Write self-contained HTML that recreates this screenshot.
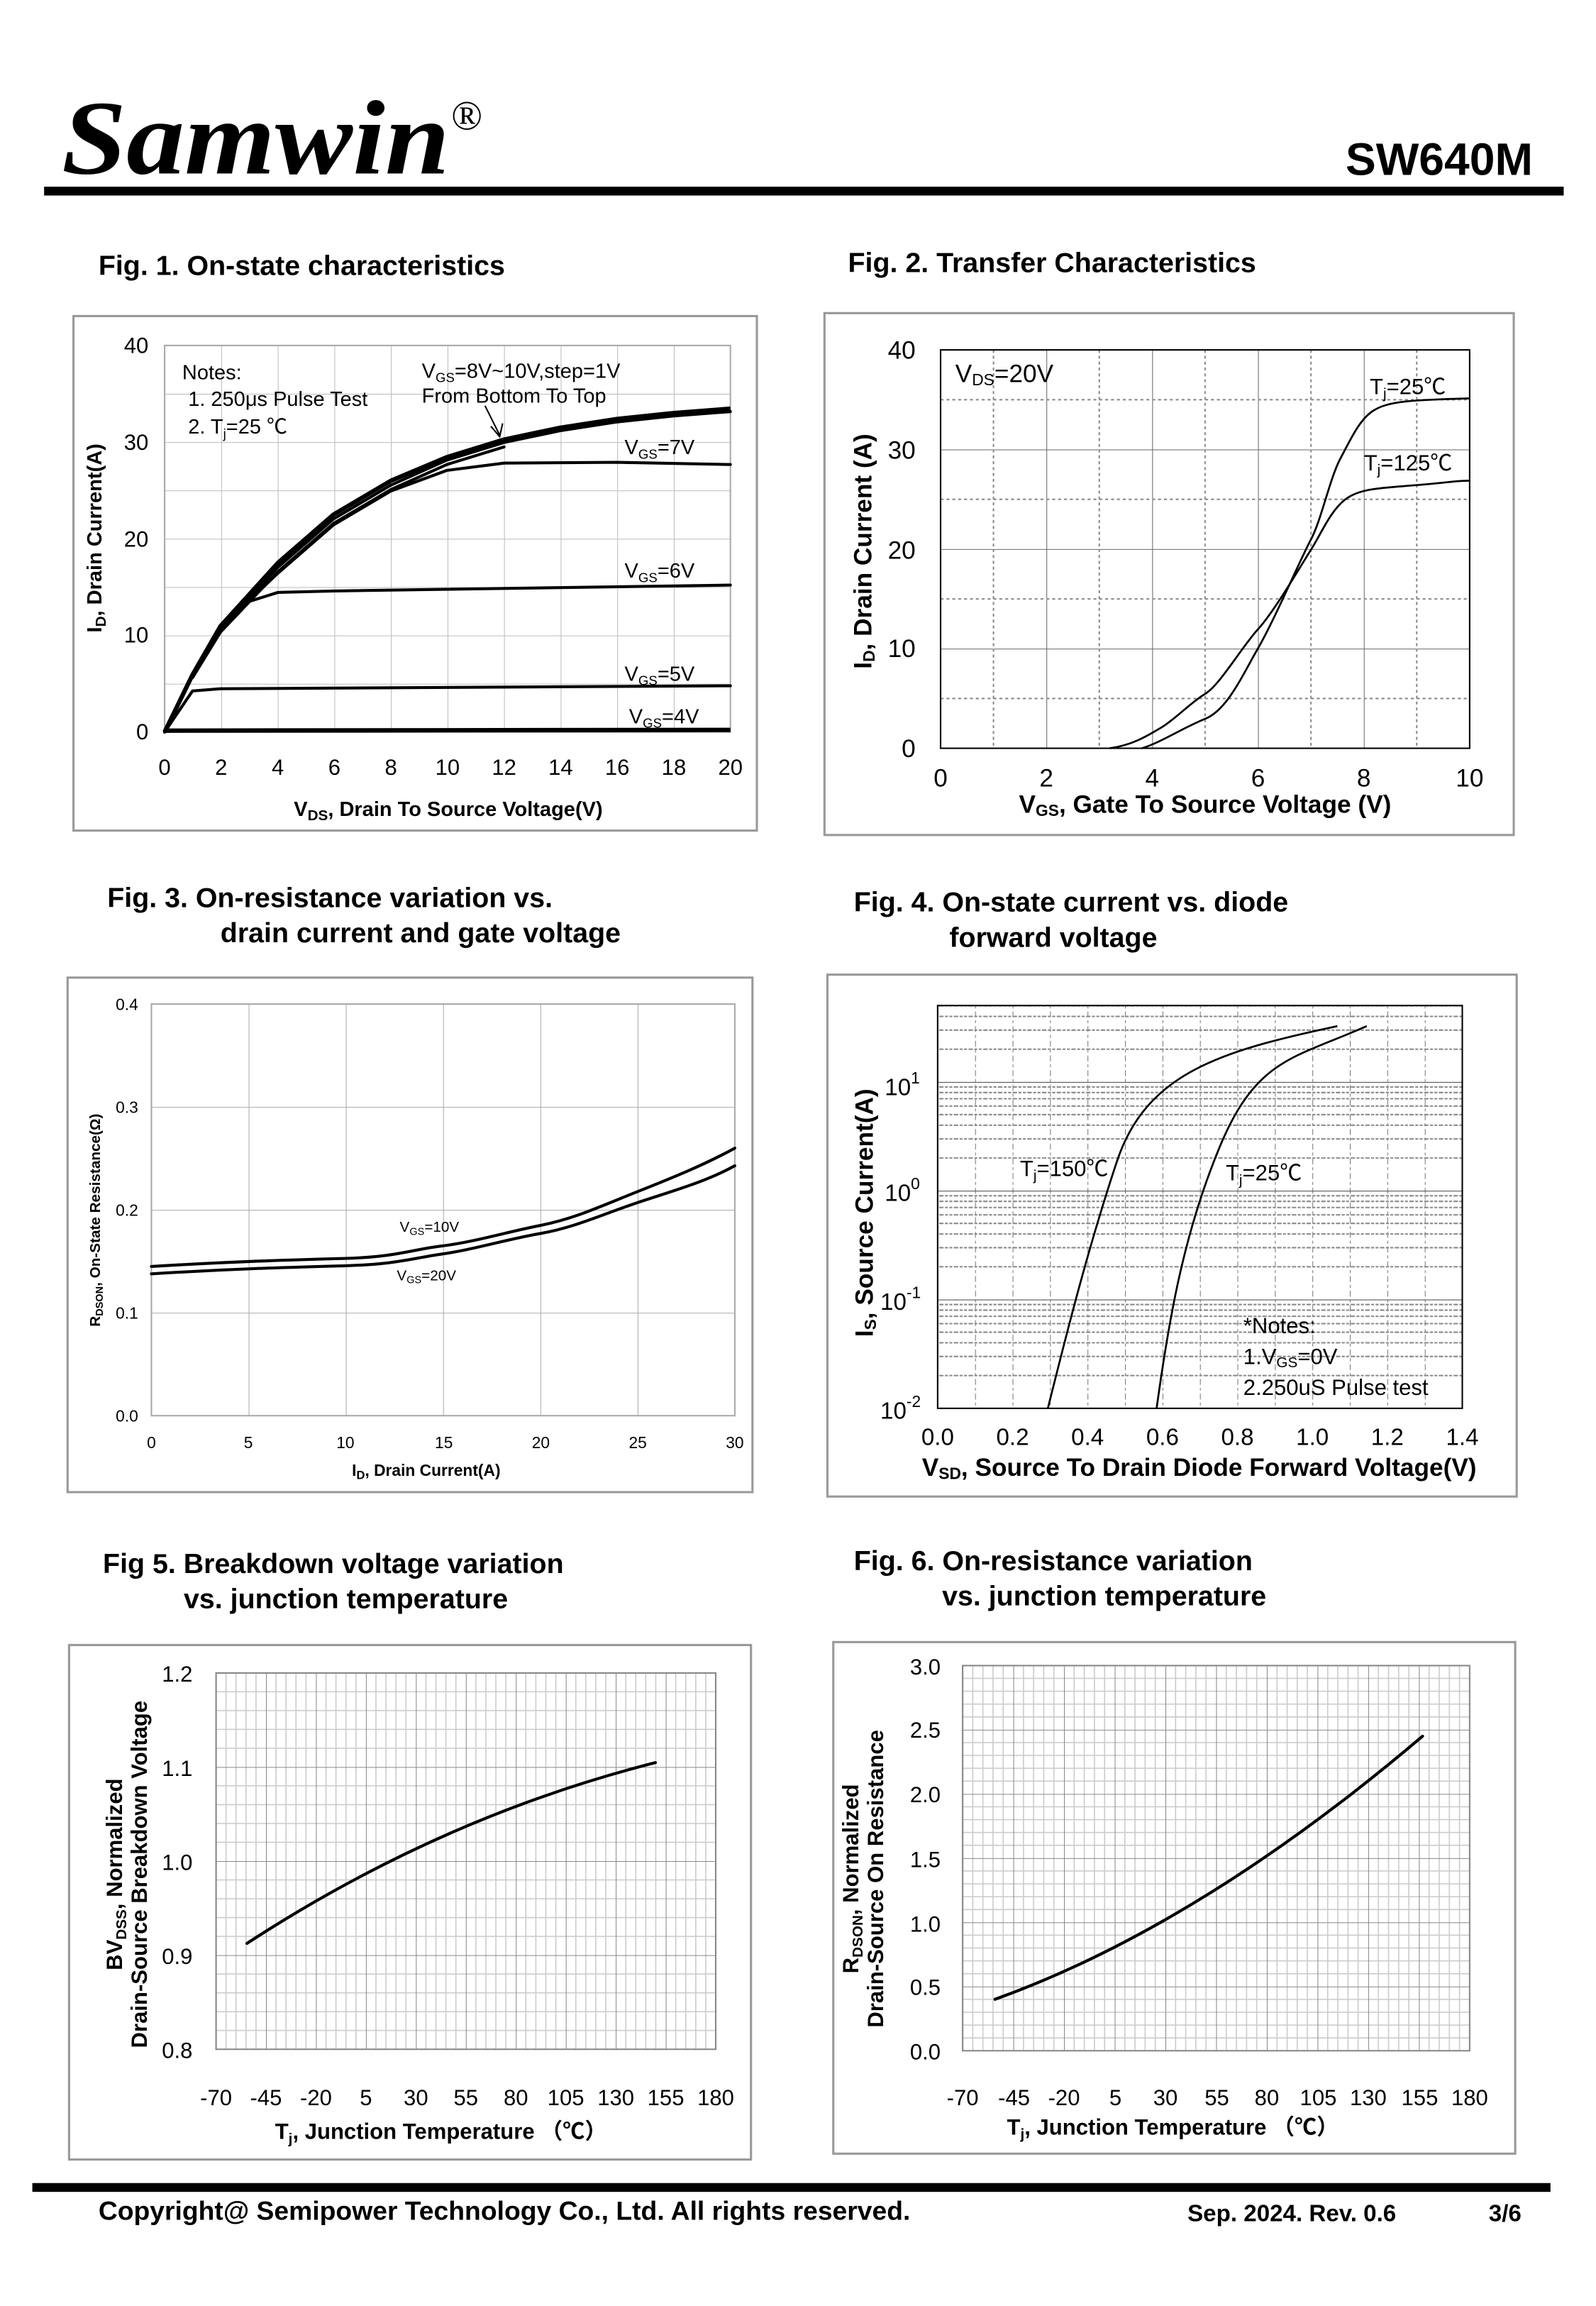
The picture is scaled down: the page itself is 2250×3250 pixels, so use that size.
<!DOCTYPE html>
<html><head><meta charset="utf-8"><style>
html,body{margin:0;padding:0;background:#fff;}
svg{display:block;}
text{font-family:"Liberation Sans","Noto Sans CJK SC",sans-serif;fill:#000;}
.t{font-weight:bold;font-size:19px;}
.lb{font-size:15px;}
.sm{font-size:11px;}
.c{fill:none;stroke:#000;stroke-width:2;stroke-linejoin:round;stroke-linecap:round;}
.c3{fill:none;stroke:#000;stroke-width:3;stroke-linejoin:round;}
.box{fill:none;stroke:#999;stroke-width:1.5;}
</style></head><body>
<svg width="2250" height="3250" viewBox="0 0 1080 1560" xmlns="http://www.w3.org/2000/svg">
<defs>
<pattern id="g1" x="112" y="498" width="38.5" height="32.875" patternUnits="userSpaceOnUse"><path d="M0 0V32.875M0 0H38.5" stroke="#bbb" stroke-width="1" fill="none"/></pattern>
<pattern id="g2" x="640" y="509" width="72" height="67.75" patternUnits="userSpaceOnUse"><path d="M0 0V67.75M0 0H72" stroke="#666" stroke-width="1" fill="none"/><path d="M0 33.9H72M36 0V67.75" stroke="#888" stroke-width="1" stroke-dasharray="2,2" fill="none"/></pattern>
<pattern id="g3" x="103" y="963" width="66.17" height="70" patternUnits="userSpaceOnUse"><path d="M0 0V70M0 0H66.17" stroke="#aaa" stroke-width="1" fill="none"/></pattern>
<pattern id="g4v" x="638" y="0" width="25.5" height="10" patternUnits="userSpaceOnUse"><path d="M0 0V10" stroke="#777" stroke-width="1" stroke-dasharray="2,2" fill="none"/></pattern>
<pattern id="g4h" x="0" y="958" width="10" height="74" patternUnits="userSpaceOnUse"><path d="M0 0H10" stroke="#444" stroke-width="1"/><path d="M0 51.7H10M0 38.7H10M0 29.4H10M0 22.2H10M0 16.4H10M0 11.4H10M0 7.2H10M0 3.4H10" stroke="#888" stroke-width="1" stroke-dasharray="2,1"/></pattern>
<pattern id="g5" x="147" y="1394" width="34" height="64" patternUnits="userSpaceOnUse"><path d="M6.8 0V64M13.6 0V64M20.4 0V64M27.2 0V64M0 12.8H34M0 25.6H34M0 38.4H34M0 51.2H34" stroke="#ccc" stroke-width="0.8" fill="none"/><path d="M0 0V64M0 0H34" stroke="#888" stroke-width="1" fill="none"/></pattern>
<pattern id="g6" x="655" y="1395" width="34.5" height="43.67" patternUnits="userSpaceOnUse"><path d="M6.9 0V43.67M13.8 0V43.67M20.7 0V43.67M27.6 0V43.67M0 8.73H34.5M0 17.47H34.5M0 26.2H34.5M0 34.93H34.5" stroke="#ccc" stroke-width="0.8" fill="none"/><path d="M0 0V43.67M0 0H34.5" stroke="#888" stroke-width="1" fill="none"/></pattern>
</defs>
<g transform="scale(0.9945)">
<!-- Header -->
<text x="42" y="118" textLength="264" lengthAdjust="spacingAndGlyphs" style="font-family:'Liberation Serif',serif;font-weight:bold;font-style:italic;font-size:72px;">Samwin</text>
<text x="307" y="88" style="font-family:'Liberation Serif',serif;font-size:28px;">®</text>
<text x="1043" y="119" text-anchor="end" style="font-weight:bold;font-size:31px;">SW640M</text>
<rect x="30" y="127" width="1034" height="6" fill="#000"/>

<!-- Fig 1 -->
<text x="67" y="187" class="t">Fig. 1. On-state characteristics</text>
<rect x="50" y="215" width="465" height="350" class="box"/>
<rect x="112" y="235" width="385" height="263" fill="url(#g1)"/>
<rect x="112" y="235" width="385" height="263" fill="none" stroke="#aaa"/>
<g class="lb" text-anchor="middle">
<text x="112" y="527">0</text><text x="150.5" y="527">2</text><text x="189" y="527">4</text><text x="227.5" y="527">6</text><text x="266" y="527">8</text><text x="304.5" y="527">10</text><text x="343" y="527">12</text><text x="381.5" y="527">14</text><text x="420" y="527">16</text><text x="458.5" y="527">18</text><text x="497" y="527">20</text>
</g>
<g class="lb" text-anchor="end">
<text x="101" y="503">0</text><text x="101" y="437">10</text><text x="101" y="372">20</text><text x="101" y="306">30</text><text x="101" y="240">40</text>
</g>
<text x="305" y="555" text-anchor="middle" style="font-size:14px;font-weight:bold;">V<tspan style="font-size:10px" dy="3">DS</tspan><tspan dy="-3">, Drain To Source Voltage(V)</tspan></text>
<text transform="translate(69,366) rotate(-90)" text-anchor="middle" style="font-size:14px;font-weight:bold;">I<tspan style="font-size:10px" dy="3">D</tspan><tspan dy="-3">, Drain Current(A)</tspan></text>
<text x="124" y="258" style="font-size:14px;">Notes:</text>
<text x="128" y="276" style="font-size:14px;">1. 250μs  Pulse Test</text>
<text x="128" y="295" style="font-size:14px;">2. T<tspan style="font-size:9px" dy="3">j</tspan><tspan dy="-3">=25 ℃</tspan></text>
<text x="287" y="257" style="font-size:14px;">V<tspan style="font-size:9px" dy="3">GS</tspan><tspan dy="-3">=8V~10V,step=1V</tspan></text>
<text x="287" y="274" style="font-size:14px;">From Bottom To Top</text>
<path d="M330 276 L340 296" stroke="#000" fill="none"/><path d="M334 290 L340 297 L342 288" stroke="#000" fill="none"/>
<path class="c3" d="M112,498 L131,459 L150,426 L189,383 L227,350 L266,327 L304,311 L343,299 L381,291 L420,285 L458,281 L497,278"/>
<path class="c" d="M131,460 L150,428 L189,386 L227,353 L266,330 L304,313 L343,301 L381,293 L420,287 L458,283 L497,280"/>
<path class="c" d="M131,461 L150,430 L189,389 L227,356 L266,333 L304,316 L343,304"/>
<path class="c" d="M112,498 L131,459 L150,427 L189,390 L227,357 L266,334 L304,320 L343,315 L420,314.5 L497,316"/>
<path class="c" d="M112,498 L131,459 L150,426 L170,409 L189,403 L227,402 L497,398"/>
<path class="c" d="M112,498 L131,470 L150,468.5 L497,466.5"/>
<path class="c3" d="M112,497 L497,496.5"/>
<text x="425" y="309" style="font-size:14px;">V<tspan style="font-size:9px" dy="3">GS</tspan><tspan dy="-3">=7V</tspan></text>
<text x="425" y="393" style="font-size:14px;">V<tspan style="font-size:9px" dy="3">GS</tspan><tspan dy="-3">=6V</tspan></text>
<text x="425" y="463" style="font-size:14px;">V<tspan style="font-size:9px" dy="3">GS</tspan><tspan dy="-3">=5V</tspan></text>
<text x="428" y="492" style="font-size:14px;">V<tspan style="font-size:9px" dy="3">GS</tspan><tspan dy="-3">=4V</tspan></text>

<!-- Fig 2 -->
<text x="577" y="185" class="t">Fig. 2. Transfer Characteristics</text>
<rect x="561" y="213" width="469" height="355" class="box"/>
<rect x="640" y="238" width="360" height="271" fill="url(#g2)"/>
<rect x="640" y="238" width="360" height="271" fill="none" stroke="#000"/>
<g style="font-size:17px;" text-anchor="middle">
<text x="640" y="535">0</text><text x="712" y="535">2</text><text x="784" y="535">4</text><text x="856" y="535">6</text><text x="928" y="535">8</text><text x="1000" y="535">10</text>
</g>
<g style="font-size:17px;" text-anchor="end">
<text x="623" y="515">0</text><text x="623" y="447">10</text><text x="623" y="380">20</text><text x="623" y="312">30</text><text x="623" y="244">40</text>
</g>
<text x="820" y="553" text-anchor="middle" style="font-size:17px;font-weight:bold;">V<tspan style="font-size:11px" dy="2">GS</tspan><tspan dy="-2">,   Gate To Source Voltage (V)</tspan></text>
<text transform="translate(593,375) rotate(-90)" text-anchor="middle" style="font-size:17px;font-weight:bold;">I<tspan style="font-size:11px" dy="2">D</tspan><tspan dy="-2">,    Drain Current (A)</tspan></text>
<text x="650" y="260" style="font-size:17px;">V<tspan style="font-size:11px" dy="2">DS</tspan><tspan dy="-2">=20V</tspan></text>
<text x="932" y="268" style="font-size:15px;">T<tspan style="font-size:10px" dy="3">j</tspan><tspan dy="-3">=25℃</tspan></text>
<text x="928" y="320" style="font-size:15px;">T<tspan style="font-size:10px" dy="3">j</tspan><tspan dy="-3">=125℃</tspan></text>
<path fill="none" stroke="#000" stroke-width="1.3" d="M777,509 C790,505 805,495 820,489 S845,460 856,441 S885,380 892,367 S905,325 912,312 S925,285 935,279 S960,272 1000,271"/>
<path fill="none" stroke="#000" stroke-width="1.3" d="M755,509 C770,507 780,501 790,495 S810,478 820,472 S845,440 856,428 S885,385 892,374 S905,348 915,340 S940,332 964,330 S990,327 1000,327"/>

<!-- Fig 3 -->
<text x="73" y="617" class="t">Fig. 3. On-resistance variation vs.</text>
<text x="150" y="641" class="t">drain current and gate voltage</text>
<rect x="46" y="665" width="466" height="350" class="box"/>
<rect x="103" y="683" width="397" height="280" fill="url(#g3)"/>
<rect x="103" y="683" width="397" height="280" fill="none" stroke="#aaa"/>
<g class="sm" text-anchor="middle">
<text x="103" y="985">0</text><text x="169" y="985">5</text><text x="235" y="985">10</text><text x="302" y="985">15</text><text x="368" y="985">20</text><text x="434" y="985">25</text><text x="500" y="985">30</text>
</g>
<g class="sm" text-anchor="end">
<text x="94" y="967">0.0</text><text x="94" y="897">0.1</text><text x="94" y="827">0.2</text><text x="94" y="757">0.3</text><text x="94" y="687">0.4</text>
</g>
<text x="290" y="1004" text-anchor="middle" style="font-size:11px;font-weight:bold;">I<tspan style="font-size:8px" dy="2">D</tspan><tspan dy="-2">, Drain Current(A)</tspan></text>
<text transform="translate(68,830) rotate(-90)" text-anchor="middle" style="font-size:10px;font-weight:bold;">R<tspan style="font-size:7px" dy="2">DSON</tspan><tspan dy="-2">, On-State Resistance(Ω)</tspan></text>
<path class="c" d="M103,861.5 C160,858 200,857 235,856 S280,850 301,847.5 S345,838 368,833.5 S410,820 434,810.5 S480,792 500,781"/>
<path class="c" d="M103,866.5 C160,863 200,862 235,861 S280,856 301,853 S345,843 368,839 S410,826 434,818 S480,804 500,793"/>
<text x="272" y="838" style="font-size:10px;">V<tspan style="font-size:7px" dy="2">GS</tspan><tspan dy="-2">=10V</tspan></text>
<text x="270" y="871" style="font-size:10px;">V<tspan style="font-size:7px" dy="2">GS</tspan><tspan dy="-2">=20V</tspan></text>

<!-- Fig 4 -->
<text x="581" y="620" class="t">Fig. 4. On-state current vs. diode</text>
<text x="646" y="644" class="t">forward voltage</text>
<rect x="563" y="663" width="469" height="355" class="box"/>
<rect x="638" y="684" width="357" height="274" fill="url(#g4v)"/>
<rect x="638" y="684" width="357" height="274" fill="url(#g4h)"/>
<rect x="638" y="684" width="357" height="274" fill="none" stroke="#000"/>
<g style="font-size:16px;" text-anchor="middle">
<text x="638" y="983">0.0</text><text x="689" y="983">0.2</text><text x="740" y="983">0.4</text><text x="791" y="983">0.6</text><text x="842" y="983">0.8</text><text x="893" y="983">1.0</text><text x="944" y="983">1.2</text><text x="995" y="983">1.4</text>
</g>
<g style="font-size:16px;">
<text x="599" y="965">10<tspan style="font-size:11px" dy="-8">-2</tspan></text>
<text x="599" y="891">10<tspan style="font-size:11px" dy="-8">-1</tspan></text>
<text x="602" y="817">10<tspan style="font-size:11px" dy="-8">0</tspan></text>
<text x="602" y="745">10<tspan style="font-size:11px" dy="-8">1</tspan></text>
</g>
<text x="816" y="1004" text-anchor="middle" style="font-size:17px;font-weight:bold;">V<tspan style="font-size:11px" dy="2">SD</tspan><tspan dy="-2">, Source To Drain Diode Forward Voltage(V)</tspan></text>
<text transform="translate(594,825) rotate(-90)" text-anchor="middle" style="font-size:17px;font-weight:bold;">I<tspan style="font-size:11px" dy="2">S</tspan><tspan dy="-2">, Source Current(A)</tspan></text>
<path fill="none" stroke="#000" stroke-width="1.3" d="M713,958 C725,910 740,850 760,790 S830,715 910,698"/>
<path fill="none" stroke="#000" stroke-width="1.3" d="M787,958 C795,900 805,840 830,780 S880,720 930,698"/>
<text x="694" y="800" style="font-size:15px;">T<tspan style="font-size:10px" dy="3">j</tspan><tspan dy="-3">=150℃</tspan></text>
<text x="834" y="803" style="font-size:15px;">T<tspan style="font-size:10px" dy="3">j</tspan><tspan dy="-3">=25℃</tspan></text>
<text x="846" y="907" style="font-size:15px;">*Notes:</text>
<text x="846" y="928" style="font-size:15px;">1.V<tspan style="font-size:10px" dy="2">GS</tspan><tspan dy="-2">=0V</tspan></text>
<text x="846" y="949" style="font-size:15px;">2.250uS Pulse test</text>

<!-- Fig 5 -->
<text x="70" y="1070" class="t">Fig 5. Breakdown voltage variation</text>
<text x="125" y="1094" class="t">vs. junction temperature</text>
<rect x="47" y="1119" width="464" height="350" class="box"/>
<rect x="147" y="1138" width="340" height="256" fill="url(#g5)"/>
<rect x="147" y="1138" width="340" height="256" fill="none" stroke="#888"/>
<g style="font-size:15px;" text-anchor="middle">
<text x="147" y="1432">-70</text><text x="181" y="1432">-45</text><text x="215" y="1432">-20</text><text x="249" y="1432">5</text><text x="283" y="1432">30</text><text x="317" y="1432">55</text><text x="351" y="1432">80</text><text x="385" y="1432">105</text><text x="419" y="1432">130</text><text x="453" y="1432">155</text><text x="487" y="1432">180</text>
</g>
<g style="font-size:15px;" text-anchor="end">
<text x="131" y="1400">0.8</text><text x="131" y="1336">0.9</text><text x="131" y="1272">1.0</text><text x="131" y="1208">1.1</text><text x="131" y="1144">1.2</text>
</g>
<text x="300" y="1455" text-anchor="middle" style="font-size:15px;font-weight:bold;">T<tspan style="font-size:10px" dy="3">j</tspan><tspan dy="-3">, Junction Temperature （℃）</tspan></text>
<text transform="translate(83,1275) rotate(-90)" text-anchor="middle" style="font-size:15px;font-weight:bold;">BV<tspan style="font-size:10px" dy="3">DSS</tspan><tspan dy="-3">, Normalized</tspan></text>
<text transform="translate(100,1275) rotate(-90)" text-anchor="middle" style="font-size:15px;font-weight:bold;">Drain-Source Breakdown Voltage</text>
<path class="c" d="M168,1322 Q300,1236 446,1199"/>

<!-- Fig 6 -->
<text x="581" y="1068" class="t">Fig. 6. On-resistance variation</text>
<text x="641" y="1092" class="t">vs. junction temperature</text>
<rect x="567" y="1117" width="464" height="348" class="box"/>
<rect x="655" y="1133" width="345" height="262" fill="url(#g6)"/>
<rect x="655" y="1133" width="345" height="262" fill="none" stroke="#888"/>
<g style="font-size:15px;" text-anchor="middle">
<text x="655" y="1432">-70</text><text x="690" y="1432">-45</text><text x="724" y="1432">-20</text><text x="759" y="1432">5</text><text x="793" y="1432">30</text><text x="828" y="1432">55</text><text x="862" y="1432">80</text><text x="897" y="1432">105</text><text x="931" y="1432">130</text><text x="966" y="1432">155</text><text x="1000" y="1432">180</text>
</g>
<g style="font-size:15px;" text-anchor="end">
<text x="640" y="1401">0.0</text><text x="640" y="1357">0.5</text><text x="640" y="1314">1.0</text><text x="640" y="1270">1.5</text><text x="640" y="1226">2.0</text><text x="640" y="1182">2.5</text><text x="640" y="1139">3.0</text>
</g>
<text x="798" y="1452" text-anchor="middle" style="font-size:15px;font-weight:bold;">T<tspan style="font-size:10px" dy="3">j</tspan><tspan dy="-3">, Junction Temperature （℃）</tspan></text>
<text transform="translate(584,1278) rotate(-90)" text-anchor="middle" style="font-size:15px;font-weight:bold;">R<tspan style="font-size:10px" dy="3">DSON</tspan><tspan dy="-3">, Normalized</tspan></text>
<text transform="translate(601,1278) rotate(-90)" text-anchor="middle" style="font-size:15px;font-weight:bold;">Drain-Source On Resistance</text>
<path class="c" d="M677,1360 Q816,1310 968,1181"/>

<!-- Footer -->
<rect x="22" y="1485" width="1033" height="6" fill="#000"/>
<text x="67" y="1510" style="font-size:18px;font-weight:bold;">Copyright@ Semipower Technology Co., Ltd. All rights reserved.</text>
<text x="808" y="1511" style="font-size:16px;font-weight:bold;">Sep. 2024. Rev. 0.6</text>
<text x="1013" y="1511" style="font-size:16px;font-weight:bold;">3/6</text>
</g>
</svg>
</body></html>
